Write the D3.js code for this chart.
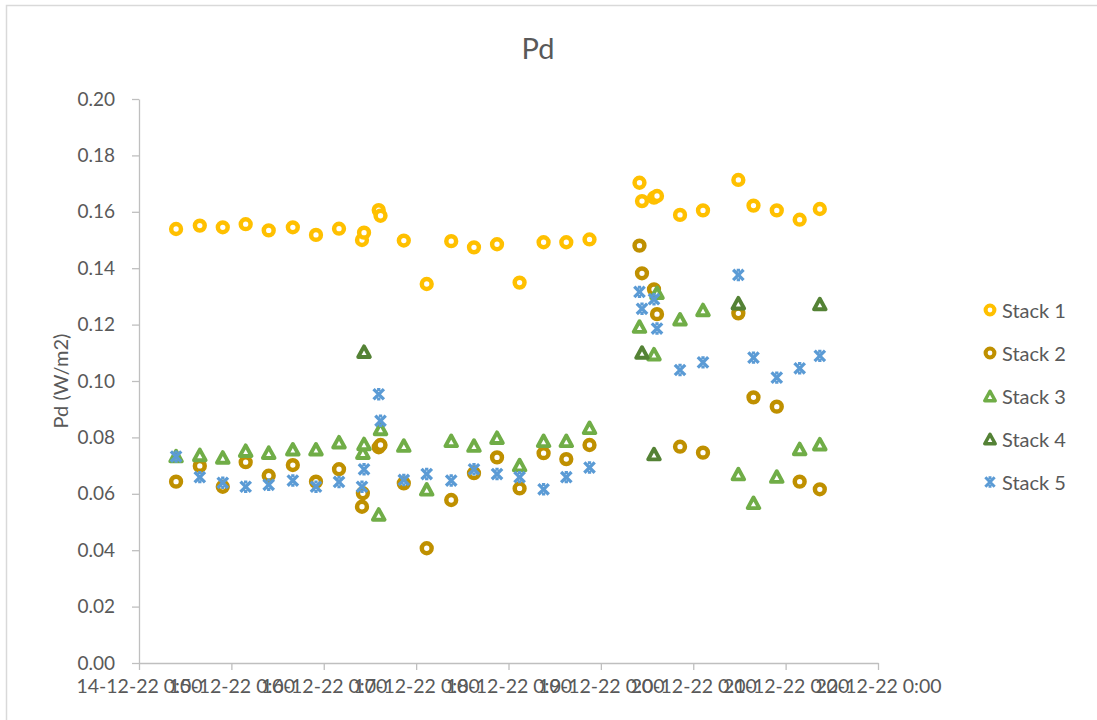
<!DOCTYPE html>
<html>
<head>
<meta charset="utf-8">
<script src="https://cdn.jsdelivr.net/npm/d3@7"></script>
<style>
  html, body { margin: 0; padding: 0; background: #fff; }
  svg { display: block; }
  text { font-family: Lato, "Open Sans", sans-serif; fill: #595959; }
</style>
</head>
<body>
<svg id="chart" width="1097" height="720"></svg>
<script>
// ---- data ----
const seriesNames = ["Stack 1", "Stack 2", "Stack 3", "Stack 4", "Stack 5"];
const yTicks = [0, 0.02, 0.04, 0.06, 0.08, 0.10, 0.12, 0.14, 0.16, 0.18, 0.20];
const xTickDates = ["14-12-22 00:00", "15-12-22 00:00", "16-12-22 00:00", "17-12-22 00:00", "18-12-22 00:00",
                    "19-12-22 00:00", "20-12-22 00:00", "21-12-22 00:00", "22-12-22 00:00"];

const stack1 = [
  ["14-12-22 09:38", 0.1539], ["14-12-22 15:48", 0.1551], ["14-12-22 21:46", 0.1545],
  ["15-12-22 03:43", 0.1556], ["15-12-22 09:42", 0.1534], ["15-12-22 15:58", 0.1545], ["15-12-22 21:59", 0.1518],
  ["16-12-22 03:58", 0.1540], ["16-12-22 09:56", 0.1500], ["16-12-22 10:28", 0.1526],
  ["16-12-22 14:17", 0.1606], ["16-12-22 14:45", 0.1586], ["16-12-22 20:48", 0.1498],
  ["17-12-22 02:45", 0.1344], ["17-12-22 09:07", 0.1496], ["17-12-22 15:02", 0.1474], ["17-12-22 21:01", 0.1485],
  ["18-12-22 02:53", 0.1349], ["18-12-22 09:07", 0.1492], ["18-12-22 15:01", 0.1492], ["18-12-22 21:03", 0.1502],
  ["19-12-22 10:02", 0.1703], ["19-12-22 10:41", 0.1638], ["19-12-22 13:48", 0.1650], ["19-12-22 14:35", 0.1656],
  ["19-12-22 20:34", 0.1589], ["20-12-22 02:32", 0.1605], ["20-12-22 11:43", 0.1713], ["20-12-22 15:39", 0.1622],
  ["20-12-22 21:42", 0.1605], ["21-12-22 03:39", 0.1572], ["21-12-22 08:53", 0.1610]
];
const stack2 = [
  ["14-12-22 09:38", 0.0643], ["14-12-22 15:48", 0.0699], ["14-12-22 21:46", 0.0625],
  ["15-12-22 03:43", 0.0712], ["15-12-22 09:42", 0.0664], ["15-12-22 15:58", 0.0702], ["15-12-22 21:59", 0.0643],
  ["16-12-22 03:58", 0.0687], ["16-12-22 09:56", 0.0554], ["16-12-22 10:10", 0.0602],
  ["16-12-22 14:17", 0.0765], ["16-12-22 14:45", 0.0773], ["16-12-22 20:48", 0.0637],
  ["17-12-22 02:45", 0.0407], ["17-12-22 09:07", 0.0578], ["17-12-22 15:02", 0.0673], ["17-12-22 21:01", 0.0729],
  ["18-12-22 02:53", 0.0619], ["18-12-22 09:07", 0.0744], ["18-12-22 15:01", 0.0723], ["18-12-22 21:03", 0.0773],
  ["19-12-22 10:02", 0.1480], ["19-12-22 10:41", 0.1382], ["19-12-22 13:48", 0.1325], ["19-12-22 14:35", 0.1237],
  ["19-12-22 20:34", 0.0767], ["20-12-22 02:32", 0.0746], ["20-12-22 11:43", 0.1240], ["20-12-22 15:39", 0.0942],
  ["20-12-22 21:42", 0.0909], ["21-12-22 03:39", 0.0643], ["21-12-22 08:53", 0.0616]
];
const stack3 = [
  ["14-12-22 09:38", 0.0734], ["14-12-22 15:48", 0.0738], ["14-12-22 21:46", 0.0729],
  ["15-12-22 03:43", 0.0753], ["15-12-22 09:42", 0.0746], ["15-12-22 15:58", 0.0758], ["15-12-22 21:59", 0.0758],
  ["16-12-22 03:58", 0.0783], ["16-12-22 10:10", 0.0746], ["16-12-22 10:28", 0.0777],
  ["16-12-22 14:17", 0.0527], ["16-12-22 14:45", 0.0830], ["16-12-22 20:48", 0.0771],
  ["17-12-22 02:45", 0.0616], ["17-12-22 09:07", 0.0788], ["17-12-22 15:02", 0.0771], ["17-12-22 21:01", 0.0799],
  ["18-12-22 02:53", 0.0702], ["18-12-22 09:07", 0.0788], ["18-12-22 15:01", 0.0788], ["18-12-22 21:03", 0.0834],
  ["19-12-22 10:02", 0.1193], ["19-12-22 13:48", 0.1095], ["19-12-22 14:35", 0.1313],
  ["19-12-22 20:34", 0.1219], ["20-12-22 02:32", 0.1252], ["20-12-22 11:43", 0.0670], ["20-12-22 15:39", 0.0568],
  ["20-12-22 21:42", 0.0661], ["21-12-22 03:39", 0.0759], ["21-12-22 08:53", 0.0776]
];
const stack4 = [
  ["16-12-22 10:28", 0.1104], ["19-12-22 10:41", 0.1101], ["19-12-22 13:48", 0.0741],
  ["20-12-22 11:43", 0.1276], ["21-12-22 08:53", 0.1273]
];
const stack5 = [
  ["14-12-22 09:38", 0.0732], ["14-12-22 15:48", 0.0659], ["14-12-22 21:46", 0.0639],
  ["15-12-22 03:43", 0.0625], ["15-12-22 09:42", 0.0632], ["15-12-22 15:58", 0.0647], ["15-12-22 21:59", 0.0625],
  ["16-12-22 03:58", 0.0642], ["16-12-22 09:56", 0.0625], ["16-12-22 10:28", 0.0687],
  ["16-12-22 14:17", 0.0953], ["16-12-22 14:45", 0.0859], ["16-12-22 20:48", 0.0649],
  ["17-12-22 02:45", 0.0670], ["17-12-22 09:07", 0.0647], ["17-12-22 15:02", 0.0687], ["17-12-22 21:01", 0.0670],
  ["18-12-22 02:53", 0.0659], ["18-12-22 09:07", 0.0616], ["18-12-22 15:01", 0.0659], ["18-12-22 21:03", 0.0693],
  ["19-12-22 10:02", 0.1316], ["19-12-22 10:41", 0.1256], ["19-12-22 13:48", 0.1290], ["19-12-22 14:35", 0.1186],
  ["19-12-22 20:34", 0.1039], ["20-12-22 02:32", 0.1066], ["20-12-22 11:43", 0.1376], ["20-12-22 15:39", 0.1083],
  ["20-12-22 21:42", 0.1012], ["21-12-22 03:39", 0.1045], ["21-12-22 08:53", 0.1089]
];
const seriesData = [stack1, stack2, stack3, stack4, stack5];
const seriesColors = ["#FFC000", "#BF9000", "#70AD47", "#548235", "#5B9BD5"];
const seriesShapes = ["circle", "circle", "triangle", "triangle", "star"];

// ---- layout ----
const parse = d3.timeParse("%d-%m-%y %H:%M");
const plot = { left: 139, right: 878, top: 99, bottom: 663 };
const svg = d3.select("#chart");
const axisColor = "#BFBFBF";

// chart border
svg.append("rect").attr("x", 6.5).attr("y", 5.5).attr("width", 1100).attr("height", 730)
  .attr("fill", "none").attr("stroke", "#D9D9D9").attr("stroke-width", 1.5);

const x = d3.scaleTime()
  .domain([parse(xTickDates[0]), parse(xTickDates[xTickDates.length - 1])])
  .range([plot.left, plot.right]);
const y = d3.scaleLinear().domain([0, 0.2]).range([plot.bottom, plot.top]);

// title
svg.append("text").attr("x", 538).attr("y", 59).attr("text-anchor", "middle")
  .style("font-size", "29px").text("Pd");

// y axis
const yAxis = svg.append("g").attr("transform", `translate(${plot.left},0)`)
  .call(d3.axisLeft(y).tickValues(yTicks).tickFormat(d3.format(".2f")).tickSize(7).tickSizeOuter(0).tickPadding(17));
yAxis.select(".domain").attr("stroke", axisColor).attr("stroke-width", 1.3);
yAxis.selectAll(".tick line").attr("stroke", axisColor).attr("stroke-width", 1.3);
yAxis.selectAll(".tick text").style("font-size", "19px").style("font-family", "Lato, sans-serif").attr("fill", "#595959");

// x axis
const xAxis = svg.append("g").attr("transform", `translate(0,${plot.bottom})`)
  .call(d3.axisBottom(x).tickValues(xTickDates.map(parse))
    .tickFormat(d3.timeFormat("%d-%m-%y %-H:%M")).tickSize(7).tickSizeOuter(0).tickPadding(9));
xAxis.select(".domain").attr("stroke", axisColor).attr("stroke-width", 1.3);
xAxis.selectAll(".tick line").attr("stroke", axisColor).attr("stroke-width", 1.3);
xAxis.selectAll(".tick text").style("font-size", "19.5px").style("font-family", "Lato, sans-serif").attr("fill", "#595959");

// y axis title
svg.append("text").attr("transform", "translate(60,381) rotate(-90)").attr("text-anchor", "middle")
  .attr("dominant-baseline", "central").style("font-size", "20px").text("Pd (W/m2)");

// markers
function drawMarker(g, shape, color, scale) {
  const s = scale || 1;
  if (shape === "circle") {
    g.append("circle").attr("r", 4.9 * s).attr("fill", "#fff").attr("stroke", color).attr("stroke-width", 4.5 * s);
  } else if (shape === "triangle") {
    const h = 5.3 * s, w = 5.8 * s;
    g.append("path").attr("d", `M0,${-h}L${w},${h}L${-w},${h}Z`).attr("fill", "#fff")
      .attr("stroke", color).attr("stroke-width", 3.9 * s).attr("stroke-linejoin", "round");
  } else {
    const a = 5.2 * s;
    g.append("path").attr("d", `M${-a},${-a}L${a},${a}M${-a},${a}L${a},${-a}M0,${-a - 1}L0,${-a + 2}M0,${a - 2}L0,${a + 1}`)
      .attr("fill", "none").attr("stroke", color).attr("stroke-width", 3.3 * s).attr("stroke-linecap", "butt");
  }
}

seriesData.forEach((data, i) => {
  const g = svg.append("g").attr("class", "series-" + (i + 1));
  data.forEach(d => {
    const m = g.append("g").attr("transform", `translate(${x(parse(d[0]))},${y(d[1])})`);
    drawMarker(m, seriesShapes[i], seriesColors[i]);
  });
});

// legend
const legendX = 990, legendY0 = 310, legendStep = 43;
seriesNames.forEach((name, i) => {
  const g = svg.append("g").attr("transform", `translate(${legendX},${legendY0 + i * legendStep})`);
  drawMarker(g, seriesShapes[i], seriesColors[i], 0.9);
  g.append("text").attr("x", 12).attr("y", 0).attr("dominant-baseline", "central")
    .style("font-size", "20px").text(name);
});
</script>
</body>
</html>
